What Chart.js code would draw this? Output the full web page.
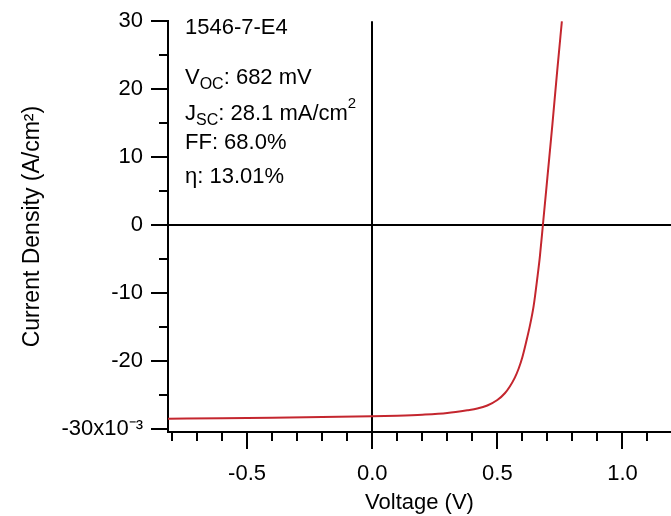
<!DOCTYPE html>
<html lang="en">
<head>
<meta charset="UTF-8" />
<title>J-V Curve 1546-7-E4</title>
<script src="https://cdn.jsdelivr.net/npm/chart.js"></script>
<style>
  html, body { margin: 0; padding: 0; background: #fff; }
  #wrap { width: 671px; height: 516px; }
</style>
</head>
<body>
<div id="wrap"><canvas id="jvChart"></canvas></div>
<script>
  // J-V sweep: voltage (V) and current density (mA/cm2, i.e. x10^-3 A/cm2)
  const voltage = [-0.816, -0.6, -0.4, -0.2, 0, 0.1, 0.2, 0.3, 0.38, 0.42, 0.46, 0.5, 0.53, 0.55,
                   0.57, 0.585, 0.6, 0.615, 0.63, 0.645, 0.66, 0.67, 0.682, 0.7, 0.72, 0.74, 0.758];
  const current = [-28.45, -28.38, -28.3, -28.2, -28.1, -28.0, -27.85, -27.6, -27.2, -26.95, -26.5, -25.7, -24.7, -23.7,
                   -22.4, -21.1, -19.4, -17.2, -14.8, -11.9, -7.7, -4.6, 0, 7, 14.8, 23, 30];

  const xTicks = [-0.5, 0, 0.5, 1.0];
  const xTickLabels = ['-0.5', '0.0', '0.5', '1.0'];
  const xMinorTicks = [-0.8, -0.7, -0.6, -0.4, -0.3, -0.2, -0.1, 0.1, 0.2, 0.3, 0.4, 0.6, 0.7, 0.8, 0.9, 1.1];
  const yTicks = [30, 20, 10, 0, -10, -20, -30];
  const yTickLabels = ['30', '20', '10', '0', '-10', '-20', '-30x10\u207B\u00B3'];
  const yMinorTicks = [25, 15, 5, -5, -15, -25];

  // device summary
  const sampleName = '1546-7-E4';
  const vocMv = 682;
  const jscValue = 28.1;
  const fillFactor = '68.0';
  const efficiency = '13.01';

  const FONT = '"Liberation Sans", Arial, sans-serif';
  Chart.defaults.font.family = FONT;
  Chart.defaults.color = '#000';

  function drawRuns(ctx, x, y, runs) {
    runs.forEach(r => {
      ctx.font = r.size + 'px ' + FONT;
      ctx.fillText(r.text, x, y + (r.dy || 0));
      x += ctx.measureText(r.text).width;
    });
  }

  const extras = {
    id: 'extras',
    afterDraw(chart) {
      const ctx = chart.ctx;
      const xs = chart.scales.x, ys = chart.scales.y;
      const area = chart.chartArea;
      ctx.save();

      // minor ticks
      ctx.strokeStyle = '#000';
      ctx.lineWidth = 2;
      ctx.beginPath();
      xMinorTicks.forEach(v => {
        const px = Math.round(xs.getPixelForValue(v));
        ctx.moveTo(px, area.bottom);
        ctx.lineTo(px, area.bottom + 9);
      });
      yMinorTicks.forEach(v => {
        const py = Math.round(ys.getPixelForValue(v));
        ctx.moveTo(area.left, py);
        ctx.lineTo(area.left - 9, py);
      });
      ctx.stroke();

      // text box in the upper left corner
      ctx.fillStyle = '#000';
      ctx.textAlign = 'left';
      ctx.textBaseline = 'alphabetic';
      const tx = area.left + 17;
      drawRuns(ctx, tx, area.top + 13, [{ text: sampleName, size: 22 }]);
      drawRuns(ctx, tx, area.top + 63, [
        { text: 'V', size: 22 }, { text: 'OC', size: 16, dy: 5 }, { text: ': ' + vocMv + ' mV', size: 22 }
      ]);
      drawRuns(ctx, tx, area.top + 99, [
        { text: 'J', size: 22 }, { text: 'SC', size: 16, dy: 5 }, { text: ': ' + jscValue + ' mA/cm', size: 22 },
        { text: '2', size: 15, dy: -12 }
      ]);
      drawRuns(ctx, tx, area.top + 128, [{ text: 'FF: ' + fillFactor + '%', size: 22 }]);
      drawRuns(ctx, tx, area.top + 162, [{ text: '\u03B7: ' + efficiency + '%', size: 22 }]);
      ctx.restore();
    }
  };

  const zeroLine = c => (c.tick && c.tick.value === 0) ? '#000' : 'rgba(0,0,0,0)';

  new Chart(document.getElementById('jvChart'), {
    type: 'scatter',
    data: {
      datasets: [{
        data: voltage.map((v, i) => ({ x: v, y: current[i] })),
        showLine: true,
        borderColor: '#c4262e',
        borderWidth: 2,
        pointRadius: 0,
        cubicInterpolationMode: 'monotone'
      }]
    },
    options: {
      responsive: true,
      maintainAspectRatio: false,
      animation: false,
      layout: { padding: { top: 20, right: 0, left: 0, bottom: 0 } },
      plugins: { legend: { display: false }, tooltip: { enabled: false } },
      scales: {
        x: {
          type: 'linear',
          min: -0.816,
          max: 1.194,
          afterBuildTicks: s => { s.ticks = xTicks.map(v => ({ value: v })); },
          afterFit: s => { s.height = 84; },
          ticks: {
            padding: 12,
            font: { size: 22 },
            callback: v => xTickLabels[xTicks.indexOf(v)]
          },
          grid: {
            color: zeroLine,
            lineWidth: 2,
            tickColor: '#000',
            tickWidth: 2,
            tickLength: 17
          },
          border: { display: true, color: '#000', width: 2 },
          title: {
            display: true,
            text: 'Voltage (V)',
            font: { size: 22 },
            padding: { top: 4, bottom: 0 }
          }
        },
        y: {
          min: -30.4,
          max: 30,
          afterBuildTicks: s => { s.ticks = yTicks.map(v => ({ value: v })); },
          afterFit: s => { s.width = 168; },
          ticks: {
            padding: 8,
            font: { size: 22 },
            callback: v => yTickLabels[yTicks.indexOf(v)]
          },
          grid: {
            color: zeroLine,
            lineWidth: 2,
            tickColor: '#000',
            tickWidth: 2,
            tickLength: 17
          },
          border: { display: true, color: '#000', width: 2 },
          title: {
            display: true,
            text: 'Current Density (A/cm\u00B2)',
            font: { size: 23 },
            padding: { top: 19, bottom: 4 }
          }
        }
      }
    },
    plugins: [extras]
  });
</script>
</body>
</html>
